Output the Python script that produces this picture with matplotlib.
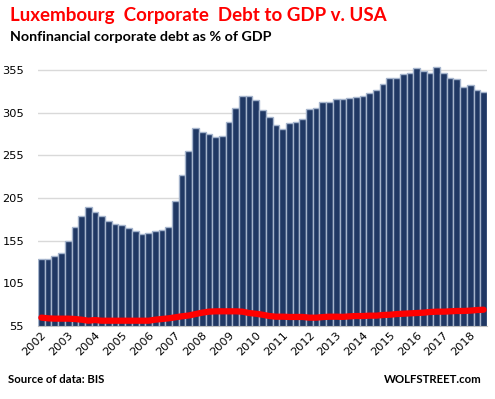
import matplotlib.pyplot as plt
import numpy as np

# Luxembourg nonfinancial corporate debt as % of GDP, quarterly 2002 Q1 - 2018 Q3
luxembourg = [
    134, 134, 137, 141, 155, 171, 184, 194, 188, 184, 178, 174,
    173, 170, 166, 163, 164, 166, 168, 171, 202, 232, 260, 287,
    282, 280, 277, 278, 294, 310, 325, 324, 320, 308, 300, 290,
    286, 293, 294, 297, 309, 311, 317, 317, 321, 321, 322, 323,
    325, 328, 332, 339, 345, 346, 350, 352, 357, 354, 351, 358,
    352, 346, 344, 335, 337, 331, 329,
]
# USA, same quarters
usa = [
    64.8, 64.0, 63.6, 63.6, 63.6, 63.2, 62.4, 61.2, 62.0, 61.2, 61.2, 61.2,
    61.2, 61.2, 61.2, 61.2, 61.2, 62.4, 63.2, 64.0, 65.2, 66.4, 67.3, 69.0,
    70.6, 71.8, 72.2, 72.2, 72.2, 72.2, 71.8, 70.2, 69.4, 68.2, 66.7, 65.9,
    65.9, 65.6, 65.6, 65.6, 64.8, 64.8, 65.5, 65.9, 65.9, 65.7, 66.3, 66.7,
    66.7, 67.1, 67.1, 67.9, 68.2, 69.0, 69.4, 69.8, 70.2, 70.6, 71.4, 71.8,
    71.8, 72.2, 72.6, 72.6, 73.0, 73.7, 74.1,
]
years = [str(y) for y in range(2002, 2019)]
yticks = [55, 105, 155, 205, 255, 305, 355]

W, H = 495, 399
fig = plt.figure(figsize=(W / 100, H / 100), dpi=100)
ax = fig.add_axes([38 / W, 1 - 326 / H, 449 / W, 268 / H])

x = np.arange(len(luxembourg))
ax.bar(x, luxembourg, width=1.0, bottom=0, color='#203864',
       edgecolor='#a5b4cc', linewidth=1.0, zorder=2)
ax.plot(x, usa, color='#ff0000', linewidth=4.5, solid_capstyle='round', zorder=3)

ax.set_xlim(-0.5, len(luxembourg) - 0.5)
ax.set_ylim(55, 369)
ax.set_yticks(yticks)
ax.set_yticklabels([str(v) for v in yticks], fontsize=8.2)
ax.set_xticks(np.arange(0, len(luxembourg), 4))
ax.set_xticklabels(years, rotation=45, ha='right', va='top',
                   rotation_mode='anchor', fontsize=8.2)
ax.tick_params(axis='both', length=0, pad=3)
ax.tick_params(axis='y', pad=10)
ax.yaxis.grid(True, color='#d9d9d9', linewidth=1.0, zorder=0)
ax.set_axisbelow(True)
for s in ['top', 'right', 'left']:
    ax.spines[s].set_visible(False)
ax.spines['bottom'].set_color('#bfbfbf')

fig.text(10 / W, 1 - 20.7 / H, 'Luxembourg  Corporate  Debt to GDP v. USA',
         color='#ff0000', fontsize=13.5, fontweight='bold', family='Lato',
         va='baseline')
fig.text(10 / W, 1 - 41 / H, 'Nonfinancial corporate debt as % of GDP',
         color='black', fontsize=10.3, fontweight='bold', family='Lato',
         va='baseline')
fig.text(8 / W, 1 - 382.7 / H, 'Source of data: BIS', color='black',
         fontsize=8.2, fontweight='bold', family='Lato', va='baseline')
fig.text(482 / W, 1 - 382.7 / H, 'WOLFSTREET.com', color='black',
         fontsize=8.2, fontweight='bold', family='Lato', va='baseline', ha='right')

fig.savefig('out.png', dpi=100)
